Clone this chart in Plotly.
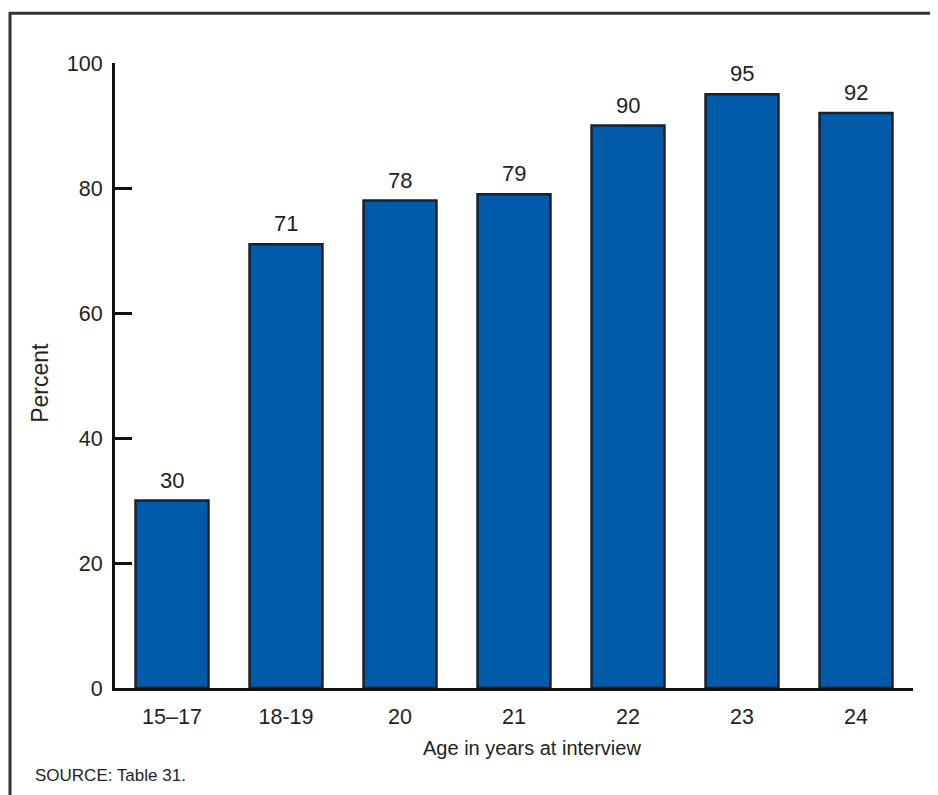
import plotly.graph_objects as go

categories = ["15–17", "18-19", "20", "21", "22", "23", "24"]
values = [30, 71, 78, 79, 90, 95, 92]
y_ticks = [0, 20, 40, 60, 80, 100]

# the page body has an 8px margin, so the figure starts at (8, 8)
OFF = 8
W, H = 938 - OFF, 795 - OFF
L, R, T, B = 115 - OFF, 25, 62.7 - OFF, 107.3
pw, ph = W - L - R, H - T - B

def px(x):
    return (x - OFF - L) / pw

def py(y):
    return (H - B - (y - OFF)) / ph

FONT = "Liberation Sans, Arial, Helvetica, sans-serif"
TXT = "#231F20"

fig = go.Figure()
fig.add_trace(go.Bar(
    x=categories, y=values, width=0.64,
    marker=dict(color="#005BAA", line=dict(color="#231F20", width=2.5)),
    hoverinfo="x+y",
))

annotations = []
for i, v in enumerate(values):
    annotations.append(dict(x=i, y=v, xref="x", yref="y", text=str(v),
                            showarrow=False, yanchor="bottom", yshift=6,
                            font=dict(family=FONT, size=22, color=TXT)))

annotations.append(dict(x=px(40.5), y=py(383), xref="paper", yref="paper",
                        text="Percent", textangle=-90, showarrow=False,
                        xanchor="center", yanchor="middle",
                        font=dict(family=FONT, size=23, color=TXT)))
annotations.append(dict(x=px(531.5), y=py(747.5), xref="paper", yref="paper",
                        text="Age in years at interview", showarrow=False,
                        xanchor="center", yanchor="middle",
                        font=dict(family=FONT, size=20, color=TXT)))
annotations.append(dict(x=px(33), y=py(775), xref="paper", yref="paper",
                        text="SOURCE: Table 31.", showarrow=False,
                        xanchor="left", yanchor="middle",
                        font=dict(family=FONT, size=17, color=TXT)))

shapes = [dict(type="rect", xref="paper", yref="paper",
               x0=px(10), x1=px(990), y0=py(850), y1=py(13),
               line=dict(color="#333333", width=3), fillcolor="rgba(0,0,0,0)",
               layer="below")]

fig.update_layout(
    width=W, height=H,
    margin=dict(l=L, r=R, t=T, b=B, pad=0),
    paper_bgcolor="white", plot_bgcolor="white",
    showlegend=False,
    annotations=annotations,
    shapes=shapes,
    font=dict(family=FONT, color=TXT),
    xaxis=dict(
        type="category", range=[-0.5, 6.5],
        showline=True, linecolor="#111111", linewidth=3,
        showgrid=False, zeroline=False, ticks="",
        tickfont=dict(family=FONT, size=21.5, color=TXT),
        ticklabelstandoff=7,
    ),
    yaxis=dict(
        range=[0, 100], tickvals=y_ticks,
        showline=True, linecolor="#111111", linewidth=3,
        showgrid=False, zeroline=False,
        ticks="inside", ticklen=17, tickwidth=3, tickcolor="#111111",
        tickfont=dict(family=FONT, size=21.5, color=TXT),
        ticklabelstandoff=5,
    ),
)

fig.write_html("out.html")
